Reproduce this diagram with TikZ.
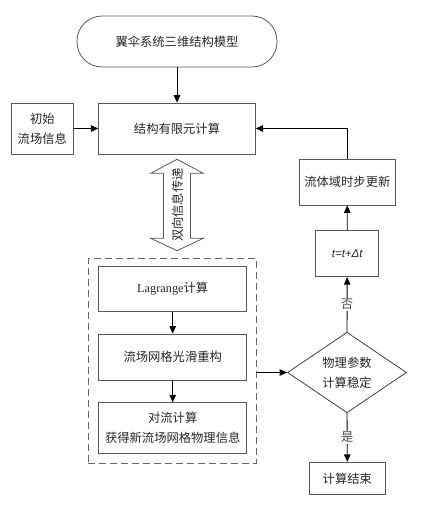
\documentclass[tikz,border=0pt]{standalone}
\usepackage{fontspec}
\setmainfont{Liberation Serif}
\newfontfamily\cjk{Noto Sans CJK SC}
\newfontfamily\arialfont{Liberation Sans}
\usetikzlibrary{arrows.meta,shapes.geometric,calc}
\begin{document}
\begin{tikzpicture}[x=1pt,y=-1pt,
  every node/.style={font=\fontsize{12.3}{20}\selectfont\cjk, text=black!85, align=center, inner sep=0pt},
  box/.style={draw=black!65, line width=0.8pt, rectangle},
  conn/.style={line width=0.9pt, draw=black, -{Triangle[length=7.5pt,width=6.5pt]}},
  lbl/.style={fill=white, inner sep=1.5pt, text=black!70}
]
\useasboundingbox (0,0) rectangle (433,508);
% nodes
\node[box, rounded corners=25pt, minimum width=200pt, minimum height=51pt] (start) at (177,41.5) {翼伞系统三维结构模型};
\node[box, minimum width=156.6pt, minimum height=51pt] (fem) at (177,128.5) {结构有限元计算};
\node[box, minimum width=62.7pt, minimum height=51pt] (init) at (42.3,128.5) {初始\\流场信息};
\node[box, minimum width=96.7pt, minimum height=46pt] (fluid) at (347.3,182) {流体域时步更新};
\node[box, minimum width=63pt, minimum height=46pt] (tstep) at (347.2,253.7) {\arialfont\itshape\fontsize{11.5}{14}\selectfont t=t+Δt};
\node[draw=black!75, line width=0.8pt, diamond, minimum width=119pt, minimum height=70.4pt] (dec) at (347,372.5) {物理参数\\计算稳定};
\node[box, minimum width=76.7pt, minimum height=32pt] (end) at (347.3,478.3) {计算结束};
\node[draw=black!60, line width=0.8pt, dash pattern=on 7pt off 4pt, minimum width=167.7pt, minimum height=205pt] (group) at (172.2,360.8) {};
\node[box, minimum width=148pt, minimum height=45.7pt] (lag) at (172.7,288.8) {{\rmfamily Lagrange}计算};
\node[box, minimum width=148pt, minimum height=46pt] (smooth) at (172.7,357) {流场网格光滑重构};
\node[box, minimum width=148pt, minimum height=50.6pt] (conv) at (172.7,428) {对流计算\\获得新流场网格物理信息};
% double arrow
\draw[draw=black!65, line width=0.8pt] (177,159.3) -- (203.3,173.3) -- (190.5,173.3) -- (190.5,238.3) -- (203.3,238.3) -- (177,250.7) -- (150.7,238.3) -- (163.5,238.3) -- (163.5,173.3) -- (150.7,173.3) -- cycle;
\node[rotate=90] (bidir) at (178,205) {双向信息传递};
% connectors
\draw[conn] (start) -- (fem);
\draw[conn] (init) -- (fem);
\draw[conn] (fluid.north) |- (fem.east);
\draw[conn] (tstep) -- (fluid);
\draw[conn] (dec.north) -- node[lbl, pos=0.5] {否} (tstep.south);
\draw[conn] (dec.south) -- node[lbl, pos=0.5] {是} (end.north);
\draw[conn] (lag) -- (smooth);
\draw[conn] (smooth) -- (conv);
\draw[conn] (dec.west -| group.east) -- (dec.west);
\end{tikzpicture}
\end{document}
